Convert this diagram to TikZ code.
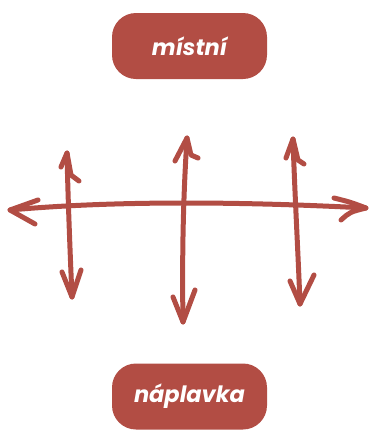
\documentclass[tikz,border=0pt]{standalone}
\usepackage{fontspec}
\setmainfont{Poppins}
\definecolor{brick}{HTML}{B24D44}
\begin{document}
\begin{tikzpicture}[x=1pt,y=-1pt,
  label box/.style={fill=brick,rounded corners=24pt,minimum width=155pt,minimum height=66pt,
    text=white,font=\fontsize{22.5}{26}\selectfont\bfseries\itshape,inner sep=0pt},
  stroke/.style={draw=brick,line width=5pt,line cap=round,line join=round}]
\useasboundingbox (0,0) rectangle (369,432);
\node[label box] (top) at (189.5,46) {místní};
\node[label box] (bottom) at (189.5,396.5) {náplavka};
% horizontal arrow
\coordinate (hl) at (10,210);
\coordinate (hr) at (366,208);
\draw[stroke] (hl) .. controls (120,200) and (250,202) .. (hr);
\draw[stroke] (38,200) -- (hl) -- (35,224);
\draw[stroke] (334,198) .. controls (350,202) .. (hr) .. controls (350,212) .. (341,220);
% left vertical
\coordinate (at) at (67,153);
\coordinate (ab) at (72,297);
\draw[stroke] (at) .. controls (68,200) and (70,250) .. (ab);
\draw[stroke] (61,167) -- (at) -- (71,175) -- (79,181);
\draw[stroke] (62,272) -- (ab) -- (81,270);
% middle vertical
\coordinate (bt) at (187,138);
\coordinate (bb) at (183,322);
\draw[stroke] (bt) .. controls (183,200) and (182,260) .. (bb);
\draw[stroke] (175,161) -- (bt) -- (191,155) -- (198,158);
\draw[stroke] (173,297) -- (bb) -- (195,290);
% right vertical
\coordinate (ct) at (293,139);
\coordinate (cb) at (300,304);
\draw[stroke] (ct) .. controls (295,200) and (298,250) .. (cb);
\draw[stroke] (286,158) -- (ct) -- (298,160) -- (304,164);
\draw[stroke] (290,281) -- (cb) -- (314,275);
\end{tikzpicture}
\end{document}
